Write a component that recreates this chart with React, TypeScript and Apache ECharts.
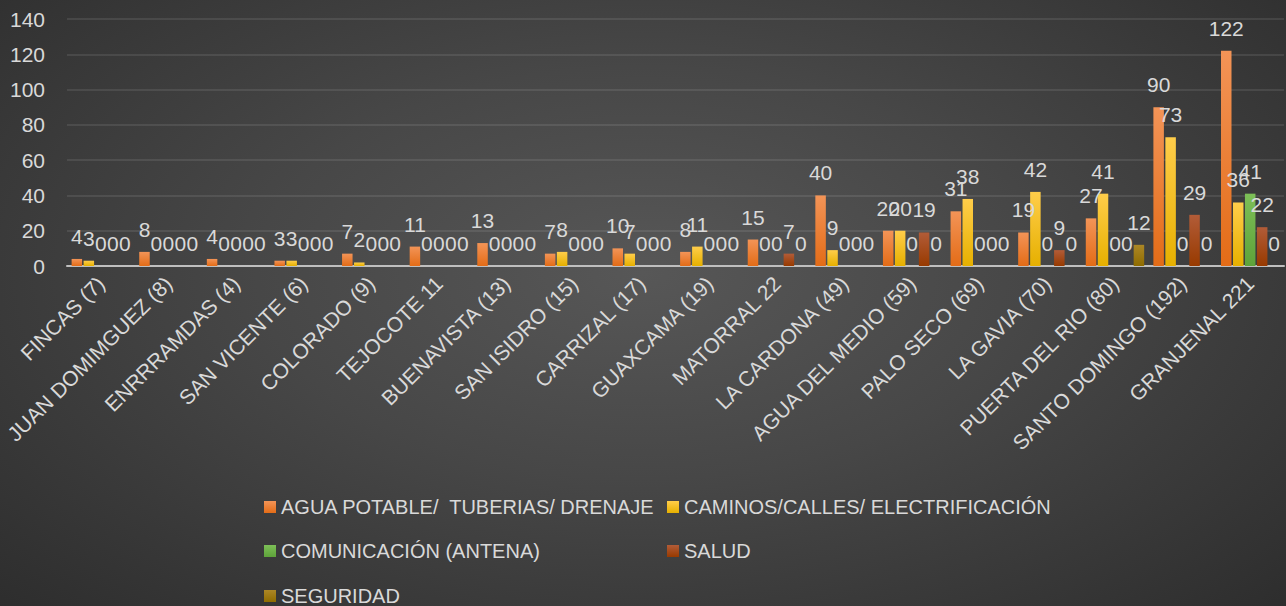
import React, { useEffect, useRef } from "react";
import * as echarts from "echarts";

const categories = [
  "FINCAS (7)",
  "JUAN DOMIMGUEZ (8)",
  "ENRRRAMDAS (4)",
  "SAN VICENTE (6)",
  "COLORADO (9)",
  "TEJOCOTE 11",
  "BUENAVISTA (13)",
  "SAN ISIDRO (15)",
  "CARRIZAL (17)",
  "GUAXCAMA (19)",
  "MATORRAL 22",
  "LA CARDONA (49)",
  "AGUA DEL MEDIO (59)",
  "PALO SECO (69)",
  "LA GAVIA (70)",
  "PUERTA DEL RIO (80)",
  "SANTO DOMINGO (192)",
  "GRANJENAL 221",
];

const seriesNames = [
  "AGUA POTABLE/  TUBERIAS/ DRENAJE",
  "CAMINOS/CALLES/ ELECTRIFICACIÓN",
  "COMUNICACIÓN (ANTENA)",
  "SALUD",
  "SEGURIDAD",
];

const agua = [4, 8, 4, 3, 7, 11, 13, 7, 10, 8, 15, 40, 20, 31, 19, 27, 90, 122];
const caminos = [3, 0, 0, 3, 2, 0, 0, 8, 7, 11, 0, 9, 20, 38, 42, 41, 73, 36];
const comunicacion = [0, 0, 0, 0, 0, 0, 0, 0, 0, 0, 0, 0, 0, 0, 0, 0, 0, 41];
const salud = [0, 0, 0, 0, 0, 0, 0, 0, 0, 0, 7, 0, 19, 0, 9, 0, 29, 22];
const seguridad = [0, 0, 0, 0, 0, 0, 0, 0, 0, 0, 0, 0, 0, 0, 0, 12, 0, 0];

const Y_MIN = 0;
const Y_MAX = 140;
const Y_STEP = 20;

const FONT = "'Liberation Sans', Arial, sans-serif";
const TEXT = "#d9d9d9";

const grad = (top: string, bottom: string) =>
  new echarts.graphic.LinearGradient(0, 0, 0, 1, [
    { offset: 0, color: top },
    { offset: 1, color: bottom },
  ]);

const palettes: [string, string][] = [
  ["#F39457", "#E36C17"],
  ["#FFCD4A", "#E6B000"],
  ["#7DBF57", "#5EA33A"],
  ["#B25C38", "#983A00"],
  ["#AC8726", "#8F6C00"],
];

const legendPos = [
  { left: 264, top: 497 },
  { left: 667, top: 497 },
  { left: 264, top: 541 },
  { left: 667, top: 541 },
  { left: 264, top: 586 },
];

export default function App() {
  const ref = useRef<HTMLDivElement>(null);
  useEffect(() => {
    if (!ref.current) return;
    const chart = echarts.init(ref.current, undefined, { renderer: "svg" });
    const values = [agua, caminos, comunicacion, salud, seguridad];
    chart.setOption({
      animation: false,
      backgroundColor: "transparent",
      textStyle: { fontFamily: FONT },
      grid: { left: 67, right: 2, top: 19, bottom: 340 },
      legend: seriesNames.map((n, i) => ({
        data: [n],
        left: legendPos[i].left,
        top: legendPos[i].top,
        padding: 0,
        icon: "rect",
        itemWidth: 12,
        itemHeight: 12,
        textStyle: { color: TEXT, fontSize: 20, fontFamily: FONT },
        selectedMode: false,
      })),
      xAxis: {
        type: "category",
        data: categories,
        axisTick: { show: false },
        axisLine: { lineStyle: { color: "#bfbfbf", width: 2 } },
        axisLabel: {
          interval: 0,
          rotate: 45,
          margin: 14,
          color: TEXT,
          fontSize: 21,
          fontFamily: FONT,
        },
      },
      yAxis: {
        type: "value",
        min: Y_MIN,
        max: Y_MAX,
        interval: Y_STEP,
        axisLine: { show: false },
        axisTick: { show: false },
        axisLabel: { color: TEXT, fontSize: 21, margin: 22, fontFamily: FONT },
        splitLine: { lineStyle: { color: "rgba(255,255,255,0.12)", width: 1.5 } },
      },
      series: seriesNames.map((n, i) => ({
        name: n,
        type: "bar",
        data: values[i],
        barWidth: 10.5,
        barGap: "14%",
        itemStyle: { color: grad(palettes[i][0], palettes[i][1]) },
        label: {
          show: true,
          position: "top",
          distance: 12,
          color: TEXT,
          fontSize: 21,
          fontFamily: FONT,
        },
      })),
    });
    return () => chart.dispose();
  }, []);
  return (
    <div
      ref={ref}
      style={{
        position: "absolute",
        left: 0,
        top: 0,
        width: 1286,
        height: 606,
        background:
          "radial-gradient(ellipse 75% 85% at 50% 45%, #575757 0%, #474747 40%, #2a2a2a 100%)",
      }}
    />
  );
}
